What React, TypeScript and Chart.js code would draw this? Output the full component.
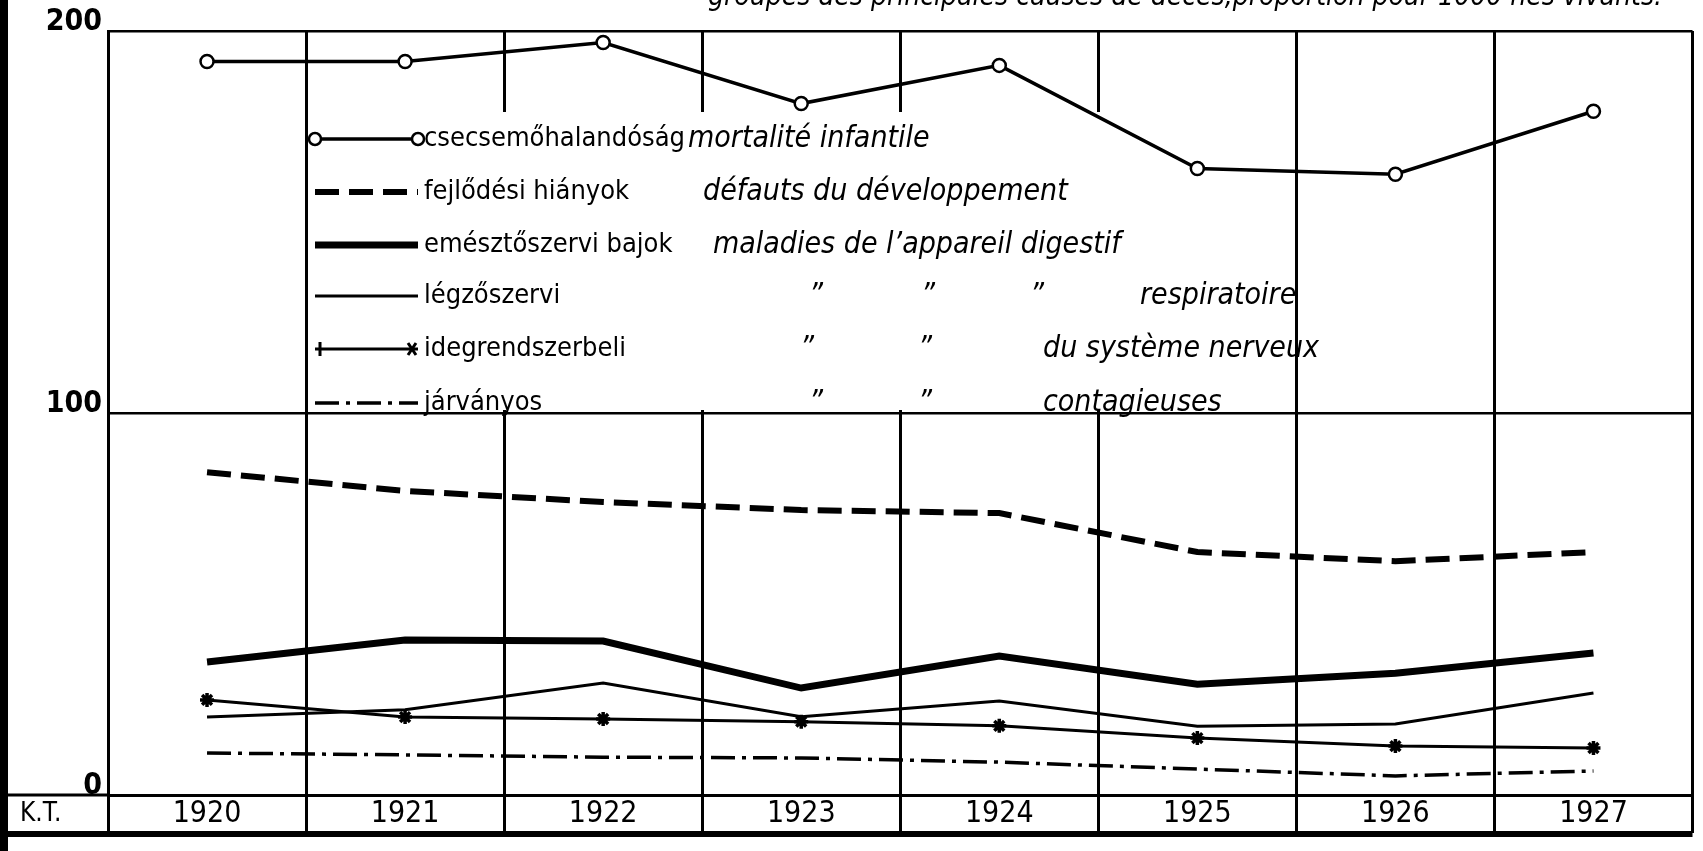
import React, { useEffect, useRef } from "react";
import { Chart, registerables } from "chart.js";

Chart.register(...registerables);

// ---- data ----
const years = ["1920", "1921", "1922", "1923", "1924", "1925", "1926", "1927"];
const infantMortality = [192, 192, 197, 181, 191, 164, 162.5, 179];
const developmentDefects = [84.5, 79.6, 76.7, 74.6, 73.8, 63.6, 61.2, 63.6];
const digestiveDiseases = [34.8, 40.6, 40.3, 28.0, 36.4, 29.0, 31.9, 37.2];
const respiratoryDiseases = [20.4, 22.3, 29.3, 20.5, 24.6, 18.0, 18.6, 26.7];
const nervousDiseases = [24.9, 20.4, 19.9, 19.2, 18.1, 14.9, 12.8, 12.3];
const contagiousDiseases = [11.0, 10.5, 9.9, 9.7, 8.6, 6.8, 5.0, 6.3];
const yMin = 0;
const yMax = 200;
const yStep = 100;

const seriesHu = [
  "csecsemőhalandóság",
  "fejlődési hiányok",
  "emésztőszervi bajok",
  "légzőszervi",
  "idegrendszerbeli",
  "járványos",
];
const titleText =
  "groupes des principales causes de décès,proportion pour 1000 nés vivants.";
const cornerLabel = "K.T.";

const SANS = '"DejaVu Sans Condensed", "DejaVu Sans", sans-serif';

export default function App() {
  const ref = useRef<HTMLCanvasElement | null>(null);

  useEffect(() => {
    const canvas = ref.current;
    if (!canvas) return;

    const legendGap = {
      id: "legendGap",
      beforeDatasetsDraw(chart: any) {
        const ctx = chart.ctx;
        ctx.save();
        ctx.fillStyle = "#fff";
        ctx.fillRect(313, 112, 880, 298);
        ctx.restore();
      },
    };

    const frame = {
      id: "frame",
      afterDraw(chart: any) {
        const ctx = chart.ctx;
        const ca = chart.chartArea;
        ctx.save();
        ctx.strokeStyle = "#000";
        ctx.fillStyle = "#000";
        // left thick bar
        ctx.fillRect(0, 0, 8, 851);
        // baseline across the corner cell
        ctx.lineWidth = 3;
        ctx.beginPath();
        ctx.moveTo(0, ca.bottom);
        ctx.lineTo(ca.left, ca.bottom);
        ctx.stroke();
        // bottom thick border of the year row
        ctx.lineWidth = 6;
        ctx.beginPath();
        ctx.moveTo(0, ca.bottom + 39);
        ctx.lineTo(ca.right, ca.bottom + 39);
        ctx.stroke();
        // corner text
        ctx.font = `26px ${SANS}`;
        ctx.textBaseline = "middle";
        ctx.textAlign = "left";
        ctx.fillText(cornerLabel, 20, ca.bottom + 19);
        // title (cut by page top)
        ctx.font = `italic 28px ${SANS}`;
        ctx.textAlign = "right";
        ctx.textBaseline = "alphabetic";
        ctx.fillText(titleText, 1662, 5);
        ctx.restore();
      },
    };

    const customLegend = {
      id: "customLegend",
      afterDatasetsDraw(chart: any) {
        const ctx = chart.ctx;
        const ds = chart.data.datasets;
        const rowsY = [139, 192, 245, 296, 349, 403];
        const x0 = 315;
        const x1 = 418;
        ctx.save();
        ctx.strokeStyle = "#000";
        ctx.fillStyle = "#000";
        rowsY.forEach((y: number, i: number) => {
          const d = ds[i];
          ctx.save();
          ctx.lineWidth = d.borderWidth;
          ctx.setLineDash(d.borderDash || []);
          ctx.beginPath();
          ctx.moveTo(x0, y);
          ctx.lineTo(x1, y);
          ctx.stroke();
          ctx.restore();
          if (i === 0) {
            [x0, x1].forEach((x) => {
              ctx.save();
              ctx.lineWidth = 2.5;
              ctx.fillStyle = "#fff";
              ctx.beginPath();
              ctx.arc(x, y, 6, 0, Math.PI * 2);
              ctx.fill();
              ctx.stroke();
              ctx.restore();
            });
          }
          if (i === 4) {
            ctx.save();
            ctx.lineWidth = 3;
            ctx.beginPath();
            ctx.moveTo(x0 + 5, y - 7);
            ctx.lineTo(x0 + 5, y + 7);
            ctx.moveTo(x1 - 10, y - 6);
            ctx.lineTo(x1 - 2, y + 6);
            ctx.moveTo(x1 - 10, y + 6);
            ctx.lineTo(x1 - 2, y - 6);
            ctx.stroke();
            ctx.restore();
          }
          ctx.font = `27px ${SANS}`;
          ctx.textBaseline = "middle";
          ctx.textAlign = "left";
          ctx.fillText(seriesHu[i], 424, y);
        });
        ctx.font = `italic 30px ${SANS}`;
        ctx.textBaseline = "middle";
        const fr: [string, number, number][] = [
          ["mortalité infantile", 688, rowsY[0]],
          ["défauts du développement", 703, rowsY[1]],
          ["maladies de l’appareil digestif", 713, rowsY[2]],
          ["\u201D", 809, rowsY[3]],
          ["\u201D", 921, rowsY[3]],
          ["\u201D", 1030, rowsY[3]],
          ["respiratoire", 1140, rowsY[3]],
          ["\u201D", 800, rowsY[4]],
          ["\u201D", 918, rowsY[4]],
          ["du système nerveux", 1043, rowsY[4]],
          ["\u201D", 809, rowsY[5]],
          ["\u201D", 918, rowsY[5]],
          ["contagieuses", 1043, rowsY[5]],
        ];
        fr.forEach(([t, x, y]) => ctx.fillText(t, x, y));
        ctx.restore();
      },
    };

    const chart = new Chart(canvas, {
      type: "line",
      data: {
        labels: years,
        datasets: [
          {
            label: seriesHu[0],
            data: infantMortality,
            borderColor: "#000",
            borderWidth: 3.5,
            pointRadius: 6.5,
            pointBackgroundColor: "#fff",
            pointBorderColor: "#000",
            pointBorderWidth: 2.5,
            tension: 0,
          },
          {
            label: seriesHu[1],
            data: developmentDefects,
            borderColor: "#000",
            borderWidth: 6,
            borderDash: [24, 10],
            pointRadius: 0,
            tension: 0,
          },
          {
            label: seriesHu[2],
            data: digestiveDiseases,
            borderColor: "#000",
            borderWidth: 7,
            pointRadius: 0,
            tension: 0,
          },
          {
            label: seriesHu[3],
            data: respiratoryDiseases,
            borderColor: "#000",
            borderWidth: 3,
            pointRadius: 0,
            tension: 0,
          },
          {
            label: seriesHu[4],
            data: nervousDiseases,
            borderColor: "#000",
            borderWidth: 3,
            pointStyle: "star",
            pointRadius: 7,
            pointBorderWidth: 3.5,
            pointBorderColor: "#000",
            tension: 0,
          },
          {
            label: seriesHu[5],
            data: contagiousDiseases,
            borderColor: "#000",
            borderWidth: 3.5,
            borderDash: [24, 7, 4, 7],
            pointRadius: 0,
            tension: 0,
          },
        ],
      },
      options: {
        responsive: true,
        maintainAspectRatio: false,
        animation: false,
        layout: { padding: { top: 31, right: 6, bottom: 18, left: 0 } },
        plugins: {
          legend: { display: false },
          tooltip: { enabled: false },
          title: { display: false },
        },
        scales: {
          x: {
            type: "category",
            offset: true,
            grid: {
              offset: true,
              color: "#000",
              lineWidth: 3,
              drawTicks: true,
              tickLength: 38,
              tickColor: "#000",
              tickWidth: 3,
            },
            border: { display: true, color: "#000", width: 3 },
            ticks: {
              color: "#000",
              font: { family: SANS, size: 30 },
              padding: -37,
              maxRotation: 0,
              autoSkip: false,
            },
            afterFit(scale: any) {
              scale.height = 38;
            },
          },
          y: {
            min: yMin,
            max: yMax,
            grid: { color: "#000", lineWidth: 2.5, drawTicks: false },
            border: { display: true, color: "#000", width: 3 },
            ticks: {
              stepSize: yStep,
              color: "#000",
              font: { family: SANS, size: 30, weight: "bold" },
              padding: 6,
              labelOffset: -9,
            },
            afterFit(scale: any) {
              scale.width = 108;
            },
          },
        },
      },
      plugins: [legendGap, customLegend, frame],
    });

    return () => chart.destroy();
  }, []);

  return (
    <div
      style={{
        position: "fixed",
        left: 0,
        top: 0,
        width: 1703,
        height: 851,
        background: "#fff",
      }}
    >
      <canvas ref={ref} />
    </div>
  );
}
